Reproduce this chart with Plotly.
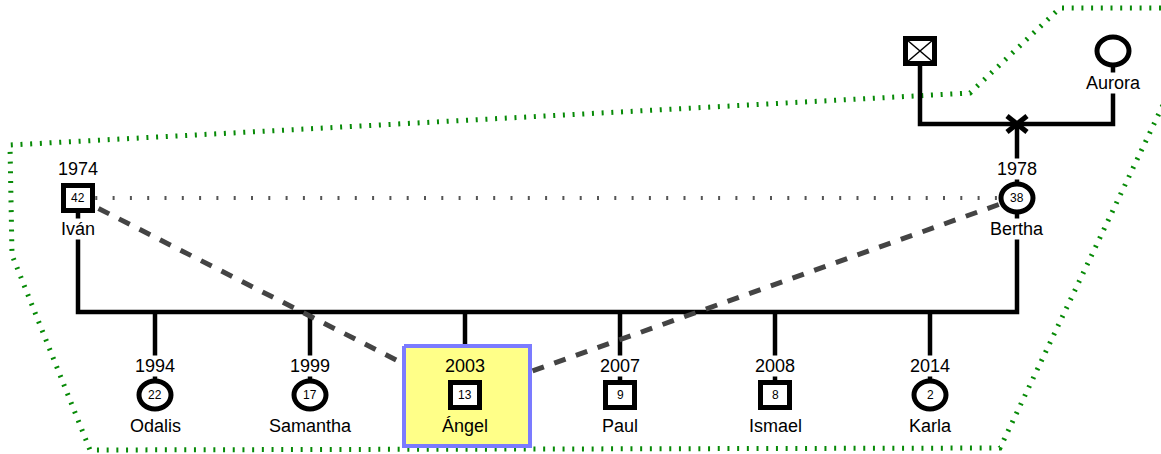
import plotly.graph_objects as go

# ---------------- data ----------------
grandparent_names = ["", "Aurora"]
grandparent_sex = ["M", "F"]
grandparent_deceased = [True, False]

parent_names = ["Iván", "Bertha"]
parent_years = [1974, 1978]
parent_ages = [42, 38]
parent_sex = ["M", "F"]

child_names = ["Odalis", "Samantha", "Ángel", "Paul", "Ismael", "Karla"]
child_years = [1994, 1999, 2003, 2007, 2008, 2014]
child_ages = [22, 17, 13, 9, 8, 2]
child_sex = ["F", "F", "M", "M", "M", "F"]

index_person = "Ángel"
separated_parent = "Bertha"          # the X mark sits on the grandparents' line above her

# ---------------- layout constants ----------------
W, H = 1161, 454
GP_X = [920, 1113]
PAR_X = [78, 1017]
CHILD_X0, CHILD_DX = 155, 155
Y_GP, Y_GP_LINE, Y_PAR, Y_SIB, Y_CHILD = 51, 124, 198, 312, 395
YEAR_OFF, NAME_OFF = -29, 31
SQ_W, SQ_H = 29, 25      # inner box of square symbols (border 5)
CI_W, CI_H = 32, 28      # inner box of circle symbols (border 5)
FONT = "Liberation Sans, Arial, sans-serif"
household_outline = [(1161, 8), (1060, 8), (970, 93), (10, 145), (12, 255),
                     (90, 450), (1000, 448), (1163, 105)]

child_x = [CHILD_X0 + CHILD_DX * i for i in range(len(child_names))]

fig = go.Figure()

# household boundary
fig.add_trace(go.Scatter(
    x=[p[0] for p in household_outline], y=[p[1] for p in household_outline],
    mode="lines", line=dict(color="#078a07", width=5, dash="2px,7.7px"),
    hoverinfo="skip"))

# kinship lines
kx, ky = [], []
kx += [GP_X[0], GP_X[0], GP_X[1], GP_X[1], None]
ky += [Y_GP, Y_GP_LINE, Y_GP_LINE, Y_GP, None]
bx = PAR_X[parent_names.index(separated_parent)]
kx += [bx, bx, None]
ky += [Y_GP_LINE, Y_PAR, None]
kx += [PAR_X[0], PAR_X[0], PAR_X[1], PAR_X[1], None]
ky += [Y_PAR, Y_SIB, Y_SIB, Y_PAR, None]
for cx in child_x:
    kx += [cx, cx, None]
    ky += [Y_SIB, Y_CHILD, None]
fig.add_trace(go.Scatter(x=kx, y=ky, mode="lines",
                         line=dict(color="black", width=4.5), hoverinfo="skip"))

# relationship lines
fig.add_trace(go.Scatter(x=PAR_X, y=[Y_PAR, Y_PAR], mode="lines",
                         line=dict(color="#555555", width=4, dash="2px,15.3px"),
                         hoverinfo="skip"))
ix = child_x[child_names.index(index_person)]
fig.add_trace(go.Scatter(x=[PAR_X[0], ix, PAR_X[1]], y=[Y_PAR, Y_CHILD, Y_PAR],
                         mode="lines",
                         line=dict(color="#444444", width=5, dash="12px,11px"),
                         hoverinfo="skip"))

# index person highlight box
l, r, t, b = ix - 61, ix + 65, Y_CHILD - 49, Y_CHILD + 51
fig.add_trace(go.Scatter(x=[l, r, r, l, l], y=[t, t, b, b, t], mode="lines",
                         fill="toself", fillcolor="#ffff88",
                         line=dict(color="#7b7bff", width=4), hoverinfo="skip"))

shapes = []
annotations = []


def symbol(x, y, sex):
    if sex == "M":
        shapes.append(dict(type="rect", x0=x - SQ_W / 2, x1=x + SQ_W / 2,
                           y0=y - SQ_H / 2, y1=y + SQ_H / 2, xref="x", yref="y",
                           line=dict(color="black", width=5), fillcolor="white",
                           layer="above"))
    else:
        shapes.append(dict(type="circle", x0=x - CI_W / 2, x1=x + CI_W / 2,
                           y0=y - CI_H / 2, y1=y + CI_H / 2, xref="x", yref="y",
                           line=dict(color="black", width=5), fillcolor="white",
                           layer="above"))


def label(x, y, text, size, bg):
    annotations.append(dict(x=x, y=y, xref="x", yref="y", text=text,
                            showarrow=False, font=dict(family=FONT, size=size,
                                                       color="black"),
                            bgcolor=bg, borderpad=0, xanchor="center",
                            yanchor="middle"))


# grandparents
for x, name, sex, dec in zip(GP_X, grandparent_names, grandparent_sex,
                             grandparent_deceased):
    symbol(x, Y_GP, sex)
    if dec:
        for sgn in (1, -1):
            shapes.append(dict(type="line", x0=x - SQ_W / 2 + 1, x1=x + SQ_W / 2 - 1,
                               y0=Y_GP - sgn * (SQ_H / 2 - 1),
                               y1=Y_GP + sgn * (SQ_H / 2 - 1), xref="x", yref="y",
                               line=dict(color="black", width=1.5), layer="above"))
    if name:
        label(x, Y_GP + 32, name, 18, "white")

# separation X on grandparents' line
for sgn in (1, -1):
    shapes.append(dict(type="line", x0=bx - 10, x1=bx + 10,
                       y0=Y_GP_LINE - sgn * 8, y1=Y_GP_LINE + sgn * 8,
                       xref="x", yref="y", line=dict(color="black", width=5),
                       layer="above"))

# parents
for x, name, yr, age, sex in zip(PAR_X, parent_names, parent_years, parent_ages,
                                 parent_sex):
    symbol(x, Y_PAR, sex)
    label(x, Y_PAR, str(age), 12, "rgba(0,0,0,0)")
    label(x, Y_PAR + YEAR_OFF, str(yr), 18, "white")
    label(x, Y_PAR + NAME_OFF, name, 18, "white")

# children
for x, name, yr, age, sex in zip(child_x, child_names, child_years, child_ages,
                                 child_sex):
    bg = "rgba(0,0,0,0)" if name == index_person else "white"
    symbol(x, Y_CHILD, sex)
    label(x, Y_CHILD, str(age), 12, "rgba(0,0,0,0)")
    label(x, Y_CHILD + YEAR_OFF, str(yr), 18, bg)
    label(x, Y_CHILD + NAME_OFF, name, 18, bg)

fig.update_layout(
    width=W, height=H, margin=dict(l=0, r=0, t=0, b=0),
    paper_bgcolor="white", plot_bgcolor="white", showlegend=False,
    xaxis=dict(range=[0, W], visible=False, fixedrange=True),
    yaxis=dict(range=[H, 0], visible=False, fixedrange=True),
    shapes=shapes, annotations=annotations,
)

fig.write_html("out.html", config={"displayModeBar": False},
               post_script="document.body.style.margin='0';"
                           "document.body.style.overflow='hidden';")
